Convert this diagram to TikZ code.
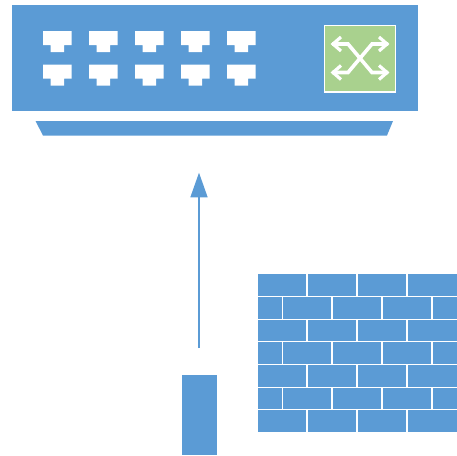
\documentclass[tikz,border=0pt]{standalone}
\usetikzlibrary{arrows.meta}
\definecolor{swblue}{HTML}{5B9BD5}
\definecolor{swgreen}{HTML}{A9D18E}
\tikzset{
  blueshape/.style={fill=swblue,draw=none},
  portshape/.style={fill=white,draw=none},
  xarm/.style={draw=white,line width=3.6pt,line join=miter},
  xhead/.style={draw=white,line width=3.2pt,line join=miter},
  linkline/.style={draw=swblue,line width=1.5pt,-{Triangle[length=24.6pt,width=17pt,fill=swblue]}},
}
\newcommand{\rjport}[2]{\fill[portshape] (#1,#2) -- ++(28.6,0) -- ++(0,14) -- ++(-7.5,0) -- ++(0,7) -- ++(-13.6,0) -- ++(0,-7) -- ++(-7.5,0) -- cycle;}
\newcommand{\brickrow}[2]{\foreach \xa/\xb in {#2} {\fill[blueshape] (\xa,#1) rectangle (\xb,#1+21.7);}}
\begin{document}
\begin{tikzpicture}[x=1pt,y=-1pt]
\useasboundingbox (0,0) rectangle (457,455);
% switch
\fill[blueshape] (11.5,5) rectangle (417.5,111);
\fill[blueshape] (35.5,121) -- (393,121) -- (387,135.5) -- (43,135.5) -- cycle;
\foreach \px in {43,89,135,181,227} {
  \rjport{\px}{31}
  \rjport{\px}{64.5}
}
% module
\fill[swgreen,draw=white,line width=1.2pt] (324.8,25.3) rectangle (395.3,92);
\draw[xarm] (332,44) -- (348,44) -- (372,72.5) -- (388,72.5);
\draw[xarm] (332,72.5) -- (348,72.5) -- (372,44) -- (388,44);
\draw[xhead] (341,37) -- (333,44) -- (341,51);
\draw[xhead] (341,65.5) -- (333,72.5) -- (341,79.5);
\draw[xhead] (379,37) -- (387,44) -- (379,51);
\draw[xhead] (379,65.5) -- (387,72.5) -- (379,79.5);
% device and arrow
\node[blueshape,inner sep=0pt,minimum width=35pt,minimum height=79.6pt,anchor=north west] (dev) at (181.7,374.7) {};
\coordinate (linkstart) at (199,348);
\coordinate (linkend) at (199,172.7);
\draw[linkline] (linkstart) -- (linkend);
% brick wall
\foreach \ry in {274.3,319.7,365,410.4} {
  \brickrow{\ry}{257.5/306.3,308/356.3,357.7/406.3,407.7/456.5}
}
\foreach \ry in {297,342.4,387.7} {
  \brickrow{\ry}{257.5/281.7,283/331.3,332.7/381.3,382.7/431.3,432.7/456.5}
}
\end{tikzpicture}
\end{document}
